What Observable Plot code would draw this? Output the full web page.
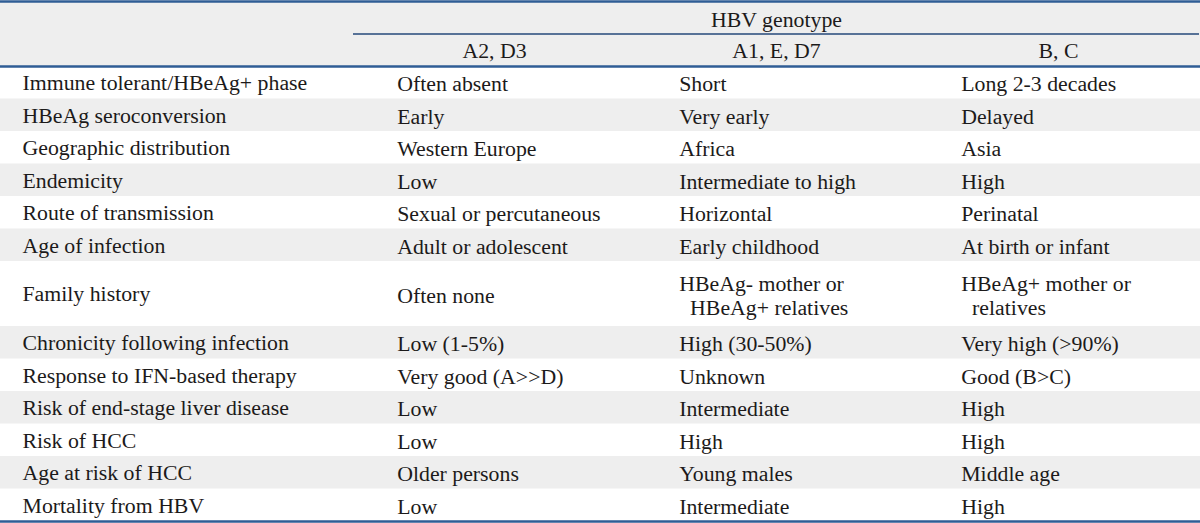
<!DOCTYPE html>
<html>
<head>
<meta charset="utf-8">
<script src="https://cdn.jsdelivr.net/npm/d3@7"></script>
<script src="https://cdn.jsdelivr.net/npm/@observablehq/plot@0.6"></script>
<style>
  html, body { margin: 0; padding: 0; background: #ffffff; }
  #chart { width: 1200px; height: 523px; }
</style>
</head>
<body>
<div id="chart"></div>
<script>
// ---- data ----
const spanner = "HBV genotype";
const genotypes = ["A2, D3", "A1, E, D7", "B, C"];
const characteristics = [
  "Immune tolerant/HBeAg+ phase",
  "HBeAg seroconversion",
  "Geographic distribution",
  "Endemicity",
  "Route of transmission",
  "Age of infection",
  "Family history",
  "Chronicity following infection",
  "Response to IFN-based therapy",
  "Risk of end-stage liver disease",
  "Risk of HCC",
  "Age at risk of HCC",
  "Mortality from HBV"
];
const genoA2D3 = [
  "Often absent", "Early", "Western Europe", "Low", "Sexual or percutaneous",
  "Adult or adolescent", "Often none", "Low (1-5%)", "Very good (A>>D)",
  "Low", "Low", "Older persons", "Low"
];
const genoA1ED7 = [
  "Short", "Very early", "Africa", "Intermediate to high", "Horizontal",
  "Early childhood", "HBeAg- mother or\n\u2002HBeAg+ relatives", "High (30-50%)", "Unknown",
  "Intermediate", "High", "Young males", "Intermediate"
];
const genoBC = [
  "Long 2-3 decades", "Delayed", "Asia", "High", "Perinatal",
  "At birth or infant", "HBeAg+ mother or\n\u2002relatives", "Very high (>90%)", "Good (B>C)",
  "High", "High", "Middle age", "High"
];

// ---- table structure built from the data ----
const columns = [genoA2D3, genoA1ED7, genoBC];
const headerUnits = 2; // spanner row + genotype row
const rows = [];
let cursor = headerUnits;
characteristics.forEach((label, i) => {
  const units = d3.max(columns, col => col[i].split("\n").length);
  rows.push({i, label, top: cursor, bottom: cursor + units, mid: cursor + units / 2});
  cursor += units;
});
const totalUnits = cursor;
const cells = [];
rows.forEach(r => columns.forEach((col, j) => cells.push({col: genotypes[j], value: col[r.i], mid: r.mid})));

const lineColor = "#2f5d95";
const textColor = "#1c1a1a";
const shade = "#eeeeee";

const chart = Plot.plot({
  width: 1200,
  height: 523,
  marginTop: 0, marginBottom: 0, marginLeft: 0, marginRight: 0,
  x: {type: "band", domain: genotypes, range: [352, 1200], padding: 0, axis: null},
  y: {domain: [0, totalUnits], range: [1, 521], axis: null},
  style: {
    fontFamily: "'Liberation Serif', 'Times New Roman', serif",
    fontSize: "20px",
    color: textColor,
    background: "#ffffff"
  },
  marks: [
    Plot.barY([headerUnits], {y1: () => 0, y2: d => d, fill: shade}),
    Plot.barY(rows.filter(r => r.i % 2 === 1), {y1: "top", y2: "bottom", fill: shade}),
    Plot.tickY(genotypes, {x: d => d, y: () => headerUnits / 2, stroke: "#24487a", strokeWidth: 1.5}),
    Plot.ruleY([0, headerUnits, totalUnits], {stroke: lineColor, strokeWidth: 2.5}),
    Plot.text([spanner], {x: () => genotypes[1], y: () => headerUnits / 4, text: d => d, fill: textColor, dy: 2.5}),
    Plot.text(genotypes, {x: d => d, y: () => headerUnits * 3 / 4, text: d => d, fill: textColor, dy: 1.5}),
    Plot.text(rows, {y: "mid", text: "label", frameAnchor: "left", textAnchor: "start", dx: 22, dy: 1, fill: textColor}),
    Plot.text(cells, {x: "col", y: "mid", text: "value", textAnchor: "start", dx: -97.3, dy: 1, lineHeight: 1.2, fill: textColor})
  ]
});
document.getElementById("chart").appendChild(chart);

// widen the glyphs slightly, as in the reference typesetting
const stretch = 1.09;
chart.querySelectorAll("text").forEach(t => {
  const spans = t.querySelectorAll("tspan");
  const targets = spans.length ? Array.from(spans) : [t];
  targets.forEach(el => {
    const w = el.getComputedTextLength();
    if (w > 0) {
      el.setAttribute("textLength", (w * stretch).toFixed(2));
      el.setAttribute("lengthAdjust", "spacingAndGlyphs");
    }
  });
});
</script>
</body>
</html>
